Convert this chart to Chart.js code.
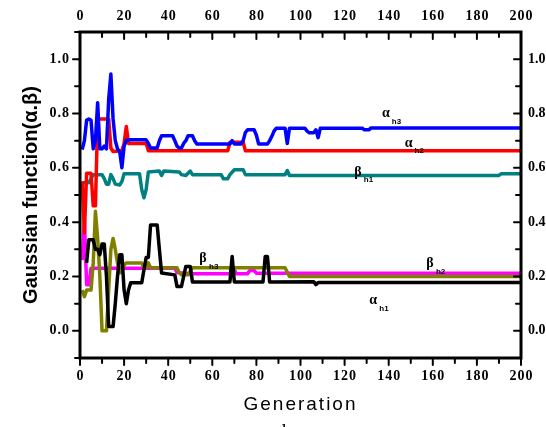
<!DOCTYPE html>
<html>
<head>
<meta charset="utf-8">
<script src="https://cdn.jsdelivr.net/npm/chart.js@4/dist/chart.umd.min.js"></script>
<style>
  html, body { margin: 0; padding: 0; background: #fff; }
  #wrap { width: 546px; height: 427px; }
</style>
</head>
<body>
<div id="wrap"><canvas id="c" width="546" height="427"></canvas></div>
<script>
// Generation axis and value axis tick values
const genTicks = [0, 20, 40, 60, 80, 100, 120, 140, 160, 180, 200];
const valueTicks = [0.0, 0.2, 0.4, 0.6, 0.8, 1.0];

// [generation, value] pairs for each curve
const alphaH3 = [[1,.667],[2,.70],[3,.775],[4,.78],[5,.775],[6,.67],[7,.70],[8,.84],[9,.67],[10,.67],
  [11,.68],[12,.67],[13,.85],[14,.945],[15,.78],[16,.70],[17,.67],[18,.66],[19,.60],[20,.68],
  [21,.70],[22,.703],[30,.703],[31,.69],[32,.673],[35,.673],[36,.70],[37,.718],[42,.718],[43,.70],
  [44,.68],[45,.673],[46,.673],[47,.69],[48,.70],[49,.718],[51,.718],[52,.70],[53,.688],[68,.688],
  [69,.70],[70,.688],[73,.688],[74,.70],[75,.73],[76,.74],[79,.74],[80,.72],[81,.688],[85,.688],
  [86,.70],[87,.716],[88,.735],[89,.746],[93,.746],[94,.69],[95,.746],[102,.746],[103,.735],[104,.729],
  [106,.729],[107,.74],[108,.711],[109,.746],[128,.746],[129,.74],[131,.74],[132,.747],[200,.747]];

const alphaH2 = [[1,.55],[2,.36],[3,.58],[5,.58],[6,.46],[7,.46],[8,.78],[13,.78],[14,.673],[15,.66],
  [19,.663],[20,.69],[21,.752],[22,.69],[30,.69],[31,.663],[67,.663],[68,.694],[74,.694],[75,.663],[200,.663]];

const betaH1 = [[1,.545],[4,.545],[5,.56],[6,.575],[10,.575],[11,.56],[12,.54],[13,.54],[14,.575],[15,.56],
  [16,.54],[18,.537],[19,.55],[20,.578],[27,.578],[28,.52],[29,.49],[30,.52],[31,.585],[36,.588],
  [37,.572],[38,.588],[45,.585],[46,.575],[48,.572],[50,.588],[51,.575],[64,.575],[65,.56],[67,.56],
  [68,.575],[70,.593],[74,.593],[75,.575],[93,.575],[94,.59],[95,.572],[190,.572],[191,.578],[200,.578]];

const alphaH1 = [[3,.25],[4,.335],[6,.335],[7,.30],[8,.30],[9,.28],[10,.32],[11,.32],[12,.20],[13,.016],
  [15,.016],[16,.10],[17,.20],[18,.28],[19,.28],[20,.15],[21,.10],[22,.15],[23,.177],[28,.177],
  [29,.225],[30,.27],[31,.27],[32,.39],[35,.39],[36,.30],[37,.213],[43,.206],[44,.163],[46,.163],
  [47,.20],[48,.237],[50,.237],[51,.18],[68,.18],[69,.274],[70,.18],[83,.18],[84,.274],[85,.274],
  [86,.18],[106,.181],[107,.17],[108,.178],[200,.178]];

const betaH3 = [[1,.15],[2,.126],[3,.15],[5,.15],[6,.25],[7,.44],[8,.34],[9,.20],[10,0],[12,0],
  [13,.15],[14,.30],[15,.34],[16,.30],[17,.25],[18,.213],[19,.22],[20,.243],[21,.25],[28,.25],
  [29,.232],[30,.232],[31,.25],[32,.232],[44,.232],[45,.215],[46,.206],[49,.206],[50,.22],[51,.232],
  [68,.232],[69,.20],[70,.232],[93,.232],[95,.20],[200,.20]];

const betaH2 = [[1,.26],[2,.41],[3,.17],[4,.17],[5,.23],[43,.23],[44,.215],[50,.21],[69,.21],[70,.225],
  [71,.21],[76,.21],[77,.222],[79,.222],[80,.212],[200,.212]];

// Curve name labels placed in data coordinates
const curveLabels = [
  { sym: 'α', sub: 'h3', gen: 138.7, val: 0.80 },
  { sym: 'α', sub: 'h2', gen: 149,   val: 0.691 },
  { sym: 'β', sub: 'h1', gen: 126,   val: 0.584 },
  { sym: 'β', sub: 'h3', gen: 55.8,  val: 0.267 },
  { sym: 'β', sub: 'h2', gen: 158.7, val: 0.248 },
  { sym: 'α', sub: 'h1', gen: 133,   val: 0.112 }
];

const toPoints = pairs => pairs.map(p => ({ x: p[0], y: p[1] }));
const series = (pairs, color) => ({
  data: toPoints(pairs),
  borderColor: color,
  borderWidth: 3.5,
  pointRadius: 0,
  tension: 0,
  fill: false,
  borderJoinStyle: 'round'
});

const TICK_FONT = 'bold 14px "Liberation Serif", "Times New Roman", serif';

// Frame, inward/outward ticks, tick labels, axis titles and curve names
const framePlugin = {
  id: 'frame',
  afterDraw(chart) {
    const { ctx, chartArea: a, scales: { x, y } } = chart;
    ctx.save();
    ctx.strokeStyle = '#000';
    ctx.fillStyle = '#000';
    ctx.lineCap = 'round';
    const seg = (x1, y1, x2, y2) => { ctx.beginPath(); ctx.moveTo(x1, y1); ctx.lineTo(x2, y2); ctx.stroke(); };

    // ticks
    ctx.lineWidth = 2;
    for (let g = 0; g <= 200; g += 10) {
      const px = x.getPixelForValue(g);
      const len = g % 20 === 0 ? 7 : 5;
      seg(px, a.bottom, px, a.bottom + len);
      seg(px, a.top, px, a.top + len);
    }
    for (let k = -1; k <= 11; k++) {
      const py = y.getPixelForValue(k / 10);
      const len = k % 2 === 0 ? 7 : 5;
      seg(a.left - len, py, a.left, py);
      seg(a.right - len, py, a.right, py);
    }

    // frame
    ctx.lineWidth = 3;
    ctx.lineCap = 'butt';
    ctx.strokeRect(a.left, a.top, a.right - a.left, a.bottom - a.top);

    // tick labels
    ctx.font = TICK_FONT;
    ctx.letterSpacing = '1px';
    ctx.textBaseline = 'middle';
    ctx.textAlign = 'center';
    genTicks.forEach(g => {
      const px = x.getPixelForValue(g);
      ctx.fillText(String(g), px + 0.5, a.bottom + 18);
      ctx.fillText(String(g), px + 0.5, a.top - 16);
    });
    valueTicks.forEach(v => {
      const py = y.getPixelForValue(v);
      ctx.letterSpacing = '1px';
      ctx.textAlign = 'right';
      ctx.fillText(v.toFixed(1), a.left - 10, py);
      ctx.letterSpacing = '0px';
      ctx.textAlign = 'left';
      ctx.fillText(v.toFixed(1), a.right + 7, py);
    });

    // axis titles
    ctx.textAlign = 'center';
    ctx.letterSpacing = '2px';
    ctx.font = '19px "Liberation Sans", Arial, sans-serif';
    ctx.fillText('Generation', (a.left + a.right) / 2, 405);
    ctx.letterSpacing = '0px';
    ctx.save();
    ctx.translate(31, 195);
    ctx.rotate(-Math.PI / 2);
    ctx.font = 'bold 20px "Liberation Sans", Arial, sans-serif';
    ctx.fillText('Gaussian function(α.β)', 0, 0);
    ctx.restore();

    // panel letter at the bottom edge
    ctx.font = '20px "Liberation Serif", serif';
    ctx.textBaseline = 'alphabetic';
    ctx.fillText('b', 287, 438);

    // curve names
    curveLabels.forEach(l => {
      const px = x.getPixelForValue(l.gen);
      const py = y.getPixelForValue(l.val);
      ctx.textBaseline = 'middle';
      ctx.textAlign = 'center';
      ctx.font = 'bold 14px "Liberation Serif", serif';
      ctx.fillText(l.sym, px, py);
      ctx.textAlign = 'left';
      ctx.font = 'bold 8px "Liberation Sans", Arial, sans-serif';
      ctx.fillText(l.sub, px + 6, py + 8);
    });
    ctx.restore();
  }
};

new Chart(document.getElementById('c'), {
  type: 'line',
  data: {
    datasets: [
      series(alphaH3, '#0000ff'),
      series(alphaH2, '#ff0000'),
      series(betaH1, '#008080'),
      series(alphaH1, '#000000'),
      series(betaH3, '#808000'),
      series(betaH2, '#ff00ff')
    ]
  },
  options: {
    responsive: false,
    devicePixelRatio: 1,
    animation: false,
    layout: { padding: { left: 80, right: 25, top: 32, bottom: 69 } },
    plugins: { legend: { display: false }, tooltip: { enabled: false } },
    scales: {
      x: { type: 'linear', min: 0, max: 200, display: false },
      y: { type: 'linear', min: -0.1, max: 1.1, display: false }
    }
  },
  plugins: [framePlugin]
});
</script>
</body>
</html>
